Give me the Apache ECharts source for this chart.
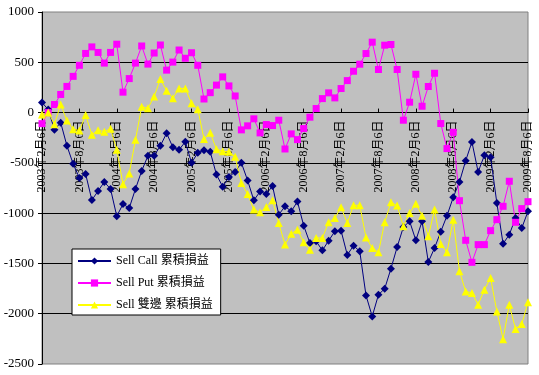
<!DOCTYPE html>
<html>
<head>
<meta charset="utf-8">
<script src="https://cdn.jsdelivr.net/npm/echarts@6/dist/echarts.min.js"></script>
<style>
html, body { margin: 0; padding: 0; background: #fff; }
#main { width: 539px; height: 375px; }
</style>
</head>
<body>
<div id="main"></div>
<script>
// monthly categories, 2003/2 .. 2009/8
var startYear = 2003;
var startMonth = 2;
var monthCount = 79;
var categories = [];
for (var k = 0; k < monthCount; k++) {
    var m = startMonth - 1 + k;
    categories.push((startYear + Math.floor(m / 12)) + '年' + (m % 12 + 1) + '月6日');
}

var seriesNames = ['Sell Call 累積損益', 'Sell Put 累積損益', 'Sell 雙邊 累積損益'];

var sellCall = [
    100, 30, -170, -100, -330, -510, -650, -610, -870, -780,
    -690, -760, -1030, -910, -950, -760, -580, -430, -430, -330,
    -205, -345, -370, -290, -500, -400, -375, -390, -617, -737,
    -640, -590, -500, -675, -873, -785, -810, -730, -1015, -932,
    -982, -885, -1125, -1297, -1280, -1370, -1274, -1181, -1174, -1416,
    -1323, -1380, -1818, -2027, -1811, -1751, -1552, -1337, -1138, -1081,
    -1270, -1081, -1486, -1347, -1184, -1025, -843, -690, -478, -292,
    -590, -425, -445, -899, -1304, -1214, -1048, -1148, -982
];

var sellPut = [
    -110, 0, 80, 180, 260, 360, 470, 588, 653, 598,
    492, 598, 680, 203, 338, 492, 662, 482, 592, 672,
    422, 502, 622, 540, 595, 470, 135, 198, 273, 355,
    265, 165, -172, -132, -62, -202, -119, -129, -76, -362,
    -212, -269, -159, -46, 40, 139, 196, 146, 239, 318,
    411, 481, 587, 700, 428, 670, 677, 428, -76, 103,
    381, 63, 259, 391, -109, -358, -196, -876, -1270, -1489,
    -1313, -1313, -1174, -1065, -932, -683, -1091, -955, -886
];

var sellBoth = [
    -20, 0, -115, 80, -80, -165, -178, -25, -220, -175,
    -190, -160, -370, -713, -605, -270, 58, 43, 160, 333,
    217, 143, 240, 240, 93, 33, -262, -200, -365, -385,
    -390, -440, -700, -810, -965, -991, -939, -872, -1098, -1313,
    -1204, -1164, -1290, -1363, -1247, -1247, -1091, -1048, -942, -1098,
    -922, -922, -1242, -1347, -1390, -1091, -892, -925, -1131, -998,
    -906, -1025, -1231, -965, -1307, -1390, -1065, -1578, -1778, -1794,
    -1910, -1761, -1645, -1977, -2253, -1910, -2153, -2103, -1887
];

var yMin = -2500;
var yMax = 1000;

var fontFamily = "'Times New Roman', 'Liberation Serif', 'Noto Sans CJK TC', serif";

var gridTop = 12;
var gridBottom = 11;
var plotHeight = 375 - gridTop - gridBottom;
// put the category axis on the zero line
var zeroOffset = -plotHeight * (0 - yMin) / (yMax - yMin);

function lineSeries(name, data, color, symbol, size) {
    return {
        name: name,
        type: 'line',
        data: data,
        symbol: symbol,
        symbolSize: size,
        showSymbol: true,
        showAllSymbol: true,
        lineStyle: { color: color, width: 1 },
        itemStyle: { color: color, borderWidth: 0 },
        emphasis: { disabled: true }
    };
}

var chart = echarts.init(document.getElementById('main'));
chart.setOption({
    animation: false,
    backgroundColor: '#fff',
    grid: {
        left: 42,
        right: 11,
        top: gridTop,
        bottom: gridBottom,
        show: true,
        backgroundColor: '#C0C0C0',
        borderColor: '#808080',
        borderWidth: 1
    },
    legend: {
        orient: 'vertical',
        left: 72,
        top: 249,
        data: seriesNames,
        backgroundColor: '#fff',
        borderColor: '#000',
        borderWidth: 1,
        borderRadius: 0,
        padding: [6, 8, 4, 5],
        itemWidth: 33,
        itemHeight: 9,
        itemGap: 10,
        textStyle: { color: '#000', fontSize: 12, fontFamily: fontFamily }
    },
    xAxis: {
        type: 'category',
        data: categories,
        boundaryGap: false,
        position: 'bottom',
        offset: zeroOffset,
        axisLine: { onZero: false, lineStyle: { color: '#000', width: 1 } },
        axisTick: { inside: true, length: 4, interval: 5, lineStyle: { color: '#000' } },
        axisLabel: {
            interval: 5,
            rotate: 90,
            margin: 8,
            color: '#000',
            fontSize: 12,
            fontFamily: fontFamily
        },
        splitLine: { show: false }
    },
    yAxis: {
        type: 'value',
        min: yMin,
        max: yMax,
        interval: 500,
        axisLine: { show: true, lineStyle: { color: '#000', width: 1 } },
        axisTick: { show: true, length: 4, lineStyle: { color: '#000' } },
        axisLabel: {
            color: '#000',
            fontSize: 13,
            margin: 8,
            fontFamily: fontFamily,
            formatter: function (v) { return String(v); }
        },
        splitLine: {
            show: true,
            showMinLine: false,
            showMaxLine: false,
            lineStyle: { color: '#000', width: 1 }
        }
    },
    series: [
        lineSeries(seriesNames[0], sellCall, '#000080', 'diamond', 8),
        lineSeries(seriesNames[1], sellPut, '#FF00FF', 'rect', 7),
        lineSeries(seriesNames[2], sellBoth, '#FFFF00', 'triangle', 8)
    ]
});
</script>
</body>
</html>
